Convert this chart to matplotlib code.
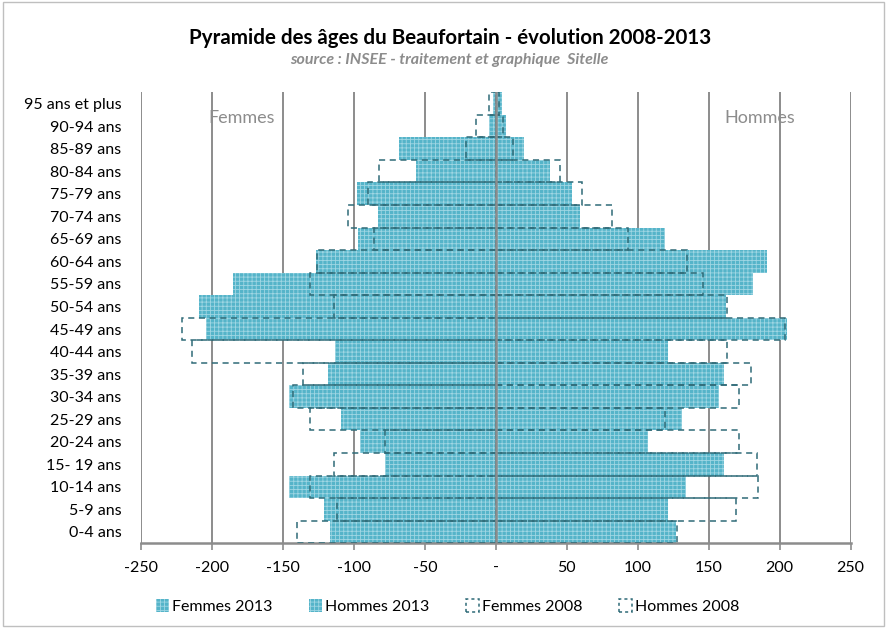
import numpy as np
import matplotlib.pyplot as plt
from matplotlib.patches import Patch

plt.rcParams['font.family'] = ['Lato', 'DejaVu Sans']
plt.rcParams['hatch.linewidth'] = 0.6

# tranches d'âge (du haut vers le bas)
ages = ['95 ans et plus', '90-94 ans', '85-89 ans', '80-84 ans', '75-79 ans',
        '70-74 ans', '65-69 ans', '60-64 ans', '55-59 ans', '50-54 ans',
        '45-49 ans', '40-44 ans', '35-39 ans', '30-34 ans', '25-29 ans',
        '20-24 ans', '15- 19 ans', '10-14 ans', '5-9 ans', '0-4 ans']

femmes_2013 = [-2, -5, -68, -56, -98, -83, -97, -127, -185, -209,
               -204, -113, -118, -146, -109, -96, -78, -146, -121, -117]
hommes_2013 = [4, 7, 20, 38, 54, 59, 119, 191, 181, 162,
               205, 121, 161, 157, 131, 107, 161, 134, 121, 127]
femmes_2008 = [-5, -14, -21, -82, -90, -104, -86, -126, -131, -114,
               -221, -214, -136, -143, -131, -78, -114, -131, -112, -140]
hommes_2008 = [2, 5, 12, 45, 61, 82, 93, 135, 146, 163,
               204, 163, 180, 171, 119, 171, 184, 185, 169, 128]

xticks = [-250, -200, -150, -100, -50, 0, 50, 100, 150, 200, 250]
xlabels = ['-250', '-200', '-150', '-100', '-50', '-', '50', '100', '150', '200', '250']

bleu = '#55b4c9'
hachure = '#9fd6e3'
contour = '#2f6b78'
gris = '#8c8c8c'

y = np.arange(len(ages))[::-1]

fig = plt.figure(figsize=(8.87, 6.28), dpi=100)
ax = fig.add_axes([0.159, 0.135, 0.80, 0.718])

ax.barh(y, femmes_2013, height=1.0, color=bleu, edgecolor=hachure,
        linewidth=0, hatch='++++', zorder=2)
ax.barh(y, hommes_2013, height=1.0, color=bleu, edgecolor=hachure,
        linewidth=0, hatch='++++', zorder=2)
ax.barh(y, femmes_2008, height=1.0, fill=False, edgecolor=contour,
        linewidth=1.1, linestyle=(0, (4, 3)), zorder=3)
ax.barh(y, hommes_2008, height=1.0, fill=False, edgecolor=contour,
        linewidth=1.1, linestyle=(0, (4, 3)), zorder=3)

ax.axvline(0, color=gris, linewidth=1.8, zorder=4)

ax.set_xlim(-250, 250)
ax.set_ylim(-0.5, len(ages) - 0.5)
ax.set_xticks(xticks)
ax.set_xticklabels(xlabels, fontsize=11.5)
ax.set_yticks(y)
ax.set_yticklabels(ages, fontsize=11.5)
ax.tick_params(axis='y', length=0, pad=14)
ax.tick_params(axis='x', direction='out', length=5, color=gris, width=1.2, pad=8)
ax.grid(axis='x', color=gris, linewidth=1.4, zorder=1)
ax.set_axisbelow(True)

for s in ['top', 'right', 'left']:
    ax.spines[s].set_visible(False)
ax.spines['bottom'].set_color(gris)
ax.spines['bottom'].set_linewidth(1.8)

ax.text(0.142, 0.942, 'Femmes', transform=ax.transAxes, fontsize=13,
        color='#8c8c8c', ha='center', va='center')
ax.text(0.872, 0.942, 'Hommes', transform=ax.transAxes, fontsize=13,
        color='#8c8c8c', ha='center', va='center')

fig.text(0.507, 0.94, 'Pyramide des âges du Beaufortain - évolution 2008-2013',
         fontsize=14.8, fontweight='bold', ha='center', va='center')
fig.text(0.507, 0.904, 'source : INSEE - traitement et graphique  Sitelle',
         fontsize=11.5, fontweight='bold', style='italic', color='#8c8c8c',
         ha='center', va='center')

handles = [
    Patch(facecolor=bleu, edgecolor=hachure, hatch='++++', linewidth=0),
    Patch(facecolor=bleu, edgecolor=hachure, hatch='++++', linewidth=0),
    Patch(fill=False, edgecolor=contour, linestyle=(0, (2, 2)), linewidth=1.1),
    Patch(fill=False, edgecolor=contour, linestyle=(0, (2, 2)), linewidth=1.1),
]
fig.legend(handles, ['Femmes 2013', 'Hommes 2013', 'Femmes 2008', 'Hommes 2008'],
           loc='center', bbox_to_anchor=(0.505, 0.034), ncol=4, frameon=False,
           fontsize=11.5, handlelength=0.8, handleheight=0.8, columnspacing=2.3,
           handletextpad=0.2)

fig.patches.append(plt.Rectangle((0.003, 0.003), 0.994, 0.994, transform=fig.transFigure,
                                 fill=False, edgecolor='#bfbfbf', linewidth=1))

plt.savefig('out.png', dpi=100)
